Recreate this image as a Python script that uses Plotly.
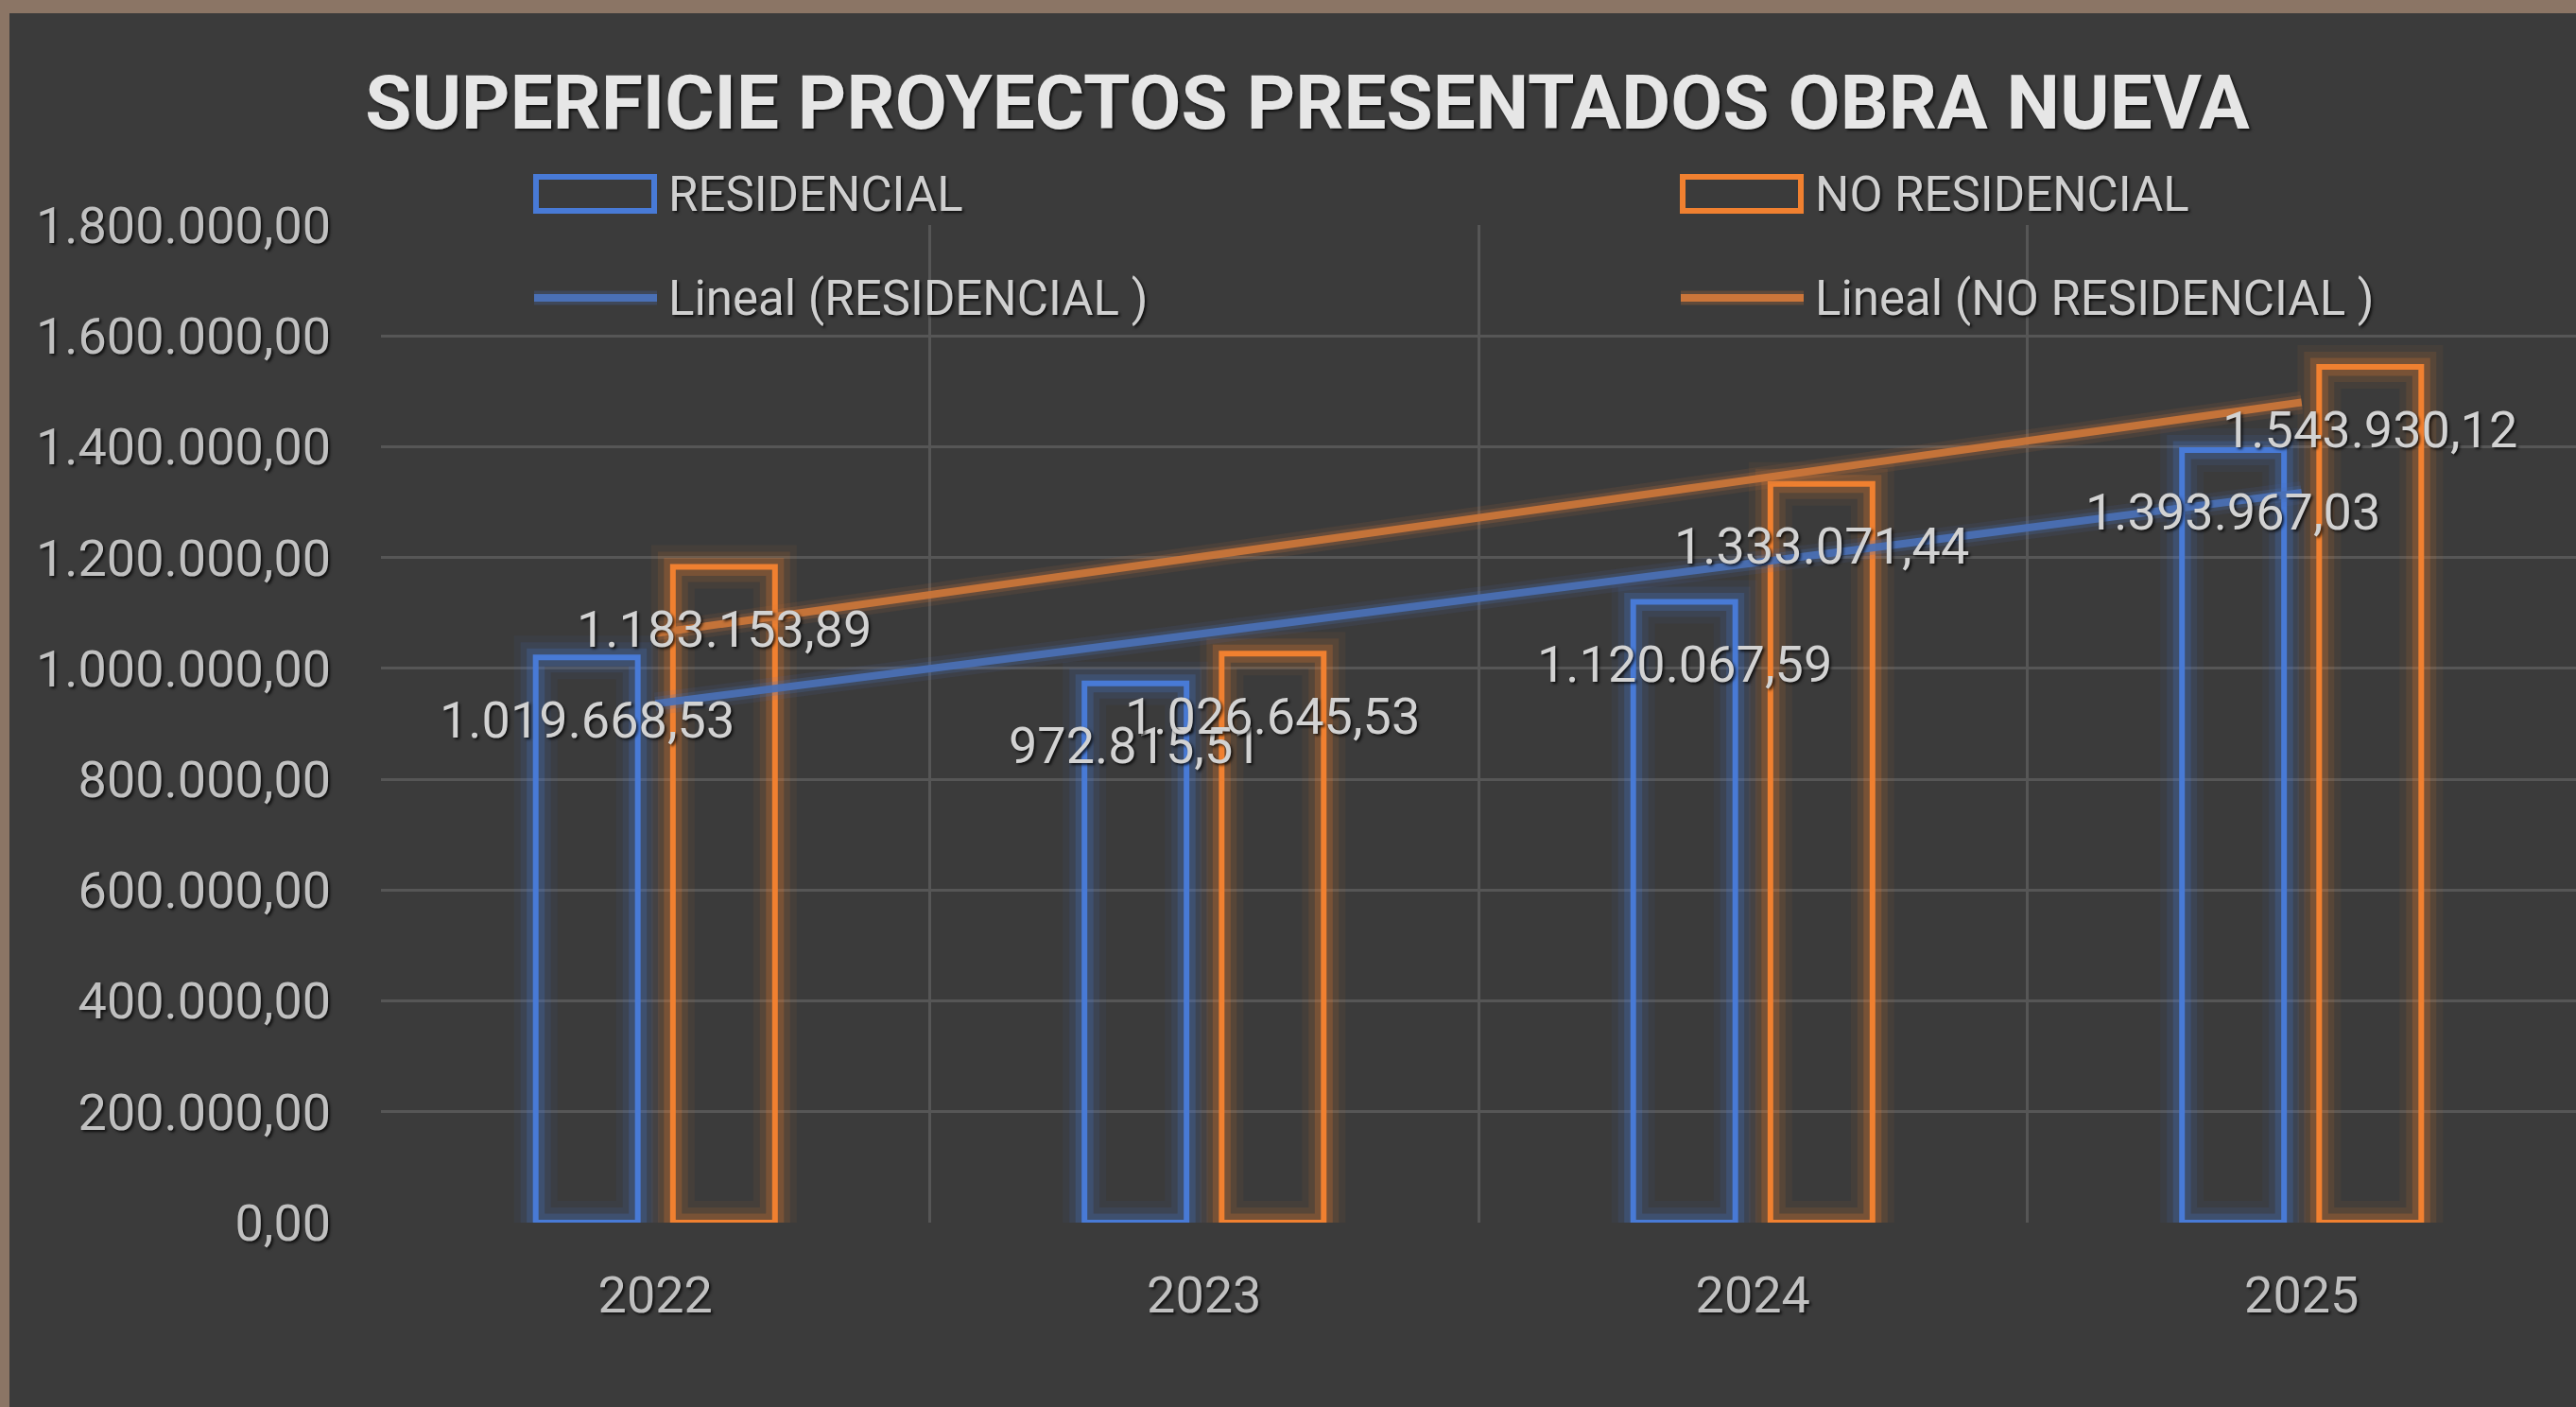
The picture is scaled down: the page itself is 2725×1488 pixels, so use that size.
import numpy as np
import plotly.graph_objects as go

# ---------------- data ----------------
years = ["2022", "2023", "2024", "2025"]
residencial = [1019668.53, 972815.51, 1120067.59, 1393967.03]
no_residencial = [1183153.89, 1026645.53, 1333071.44, 1543930.12]
series_names = ["RESIDENCIAL", "NO RESIDENCIAL"]
trend_names = ["Lineal (RESIDENCIAL )", "Lineal (NO RESIDENCIAL )"]
title_text = "SUPERFICIE PROYECTOS PRESENTADOS OBRA NUEVA"
y_tick_values = [0, 200000, 400000, 600000, 800000, 1000000, 1200000, 1400000, 1600000, 1800000]

# ---------------- layout constants ----------------
FIG_W, FIG_H = 2725, 1488
M_L, M_R, M_T, M_B = 403, 0, 238, 195
PW = FIG_W - M_L - M_R
PH = FIG_H - M_T - M_B

BG = "#3b3b3b"
BORDER = "#8b7565"
GRID = "#565656"
BLUE_RGB = "72,122,214"
ORANGE_RGB = "240,128,48"
BLUE_TREND_RGB = "74,112,182"
ORANGE_TREND_RGB = "204,118,58"
FONT = "Roboto"
SHADOW = "2px 2px 3px rgba(0,0,0,0.75)"
TICK_COLOR = "#c0c0c0"

BAR_W = 0.186
CENTERS = [-0.125, 0.125]


def px_x(px):
    return (px - M_L) / PW


def px_y(py):
    return (FIG_H - M_B - py) / PH


def fmt_es(v):
    s = f"{v:,.2f}"
    return s.replace(",", "X").replace(".", ",").replace("X", ".")


fig = go.Figure()

series = [
    (series_names[0], residencial, BLUE_RGB, BLUE_TREND_RGB, trend_names[0], CENTERS[0]),
    (series_names[1], no_residencial, ORANGE_RGB, ORANGE_TREND_RGB, trend_names[1], CENTERS[1]),
]

# bars with glow
for name, vals, rgb, trgb, tname, c in series:
    for w, a in [(46, 0.06), (32, 0.11), (19, 0.22)]:
        fig.add_trace(go.Bar(
            x=years, y=vals, width=BAR_W, offset=c - BAR_W / 2,
            marker=dict(color="rgba(0,0,0,0)", line=dict(color=f"rgba({rgb},{a})", width=w)),
            showlegend=False, hoverinfo="skip",
        ))
    fig.add_trace(go.Bar(
        x=years, y=vals, width=BAR_W, offset=c - BAR_W / 2, name=name,
        marker=dict(color="rgba(0,0,0,0)", line=dict(color=f"rgb({rgb})", width=6)),
        showlegend=False,
    ))

# linear trend lines (least squares over category index)
idx = np.arange(1, len(years) + 1)
for name, vals, rgb, trgb, tname, c in series:
    k, b = np.polyfit(idx, np.array(vals), 1)
    trend = k * idx + b
    for w, a in [(24, 0.10), (15, 0.22)]:
        fig.add_trace(go.Scatter(
            x=years, y=trend, mode="lines",
            line=dict(color=f"rgba({trgb},{a})", width=w),
            showlegend=False, hoverinfo="skip",
        ))
    fig.add_trace(go.Scatter(
        x=years, y=trend, mode="lines", name=tname,
        line=dict(color=f"rgba({trgb},0.92)", width=8),
        showlegend=False,
    ))

annotations = []
shapes = []

# data labels
for name, vals, rgb, trgb, tname, c in series:
    for i, v in enumerate(vals):
        annotations.append(dict(
            x=i + c, y=v, xref="x", yref="y", text=fmt_es(v), showarrow=False,
            xanchor="center", yanchor="middle", yshift=-66,
            font=dict(family=FONT, size=54, color="#d2d2d2", shadow=SHADOW),
        ))

# brown border strips on top and left
shapes.append(dict(
    type="rect", xref="paper", yref="paper", layer="below",
    x0=px_x(-5), x1=px_x(FIG_W + 5), y0=px_y(14), y1=px_y(-5),
    fillcolor=BORDER, line=dict(width=0),
))
shapes.append(dict(
    type="rect", xref="paper", yref="paper", layer="below",
    x0=px_x(-5), x1=px_x(10), y0=px_y(FIG_H + 5), y1=px_y(-5),
    fillcolor=BORDER, line=dict(width=0),
))

# manual legend
leg_items = [
    ("rect", BLUE_RGB, series_names[0], 565, 205),
    ("rect", ORANGE_RGB, series_names[1], 1778, 205),
    ("line", BLUE_TREND_RGB, trend_names[0], 565, 315),
    ("line", ORANGE_TREND_RGB, trend_names[1], 1778, 315),
]
for kind, rgb, label, x0, yc in leg_items:
    if kind == "rect":
        shapes.append(dict(
            type="rect", xref="paper", yref="paper",
            x0=px_x(x0 + 2), x1=px_x(x0 + 127), y0=px_y(yc + 18), y1=px_y(yc - 18),
            fillcolor="rgba(0,0,0,0)", line=dict(color=f"rgb({rgb})", width=6),
        ))
    else:
        shapes.append(dict(
            type="line", xref="paper", yref="paper",
            x0=px_x(x0), x1=px_x(x0 + 130), y0=px_y(yc), y1=px_y(yc),
            line=dict(color=f"rgba({rgb},0.25)", width=15),
        ))
        shapes.append(dict(
            type="line", xref="paper", yref="paper",
            x0=px_x(x0), x1=px_x(x0 + 130), y0=px_y(yc), y1=px_y(yc),
            line=dict(color=f"rgb({rgb})", width=8),
        ))
    annotations.append(dict(
        x=px_x(x0 + 140), y=px_y(yc), xref="paper", yref="paper", text=label,
        showarrow=False, xanchor="left", yanchor="middle",
        font=dict(family=FONT, size=51, color="#cfcfcf", shadow=SHADOW),
    ))

fig.update_layout(
    width=FIG_W, height=FIG_H,
    margin=dict(l=M_L, r=M_R, t=M_T, b=M_B, pad=0),
    paper_bgcolor=BG,
    plot_bgcolor="rgba(0,0,0,0)",
    barmode="overlay",
    separators=",.",
    showlegend=False,
    title=dict(
        text=title_text, xref="container", yref="container",
        x=1383 / FIG_W, y=1 - 108 / FIG_H, xanchor="center", yanchor="middle",
        font=dict(family=FONT, size=80, color="#e6e6e6", weight=700, shadow=SHADOW),
    ),
    xaxis=dict(
        type="category", categoryorder="array", categoryarray=years,
        tickson="boundaries", showgrid=True, gridcolor=GRID, gridwidth=3,
        ticks="", ticklabelstandoff=40,
        showline=False, zeroline=False, range=[-0.5, 3.5],
        tickfont=dict(family=FONT, size=54, color=TICK_COLOR, shadow=SHADOW),
    ),
    yaxis=dict(
        range=[0, 1800000], tickvals=y_tick_values, tickformat=",.2f",
        showgrid=True, gridcolor=GRID, gridwidth=3, zeroline=False, showline=False,
        ticks="outside", ticklen=41, tickcolor="rgba(0,0,0,0)",
        tickfont=dict(family=FONT, size=54, color=TICK_COLOR, shadow=SHADOW),
    ),
    annotations=annotations,
    shapes=shapes,
)

fig.write_html(
    "out.html",
    config={"displayModeBar": False},
    post_script="document.body.style.margin='0';document.body.style.overflow='hidden';",
)
